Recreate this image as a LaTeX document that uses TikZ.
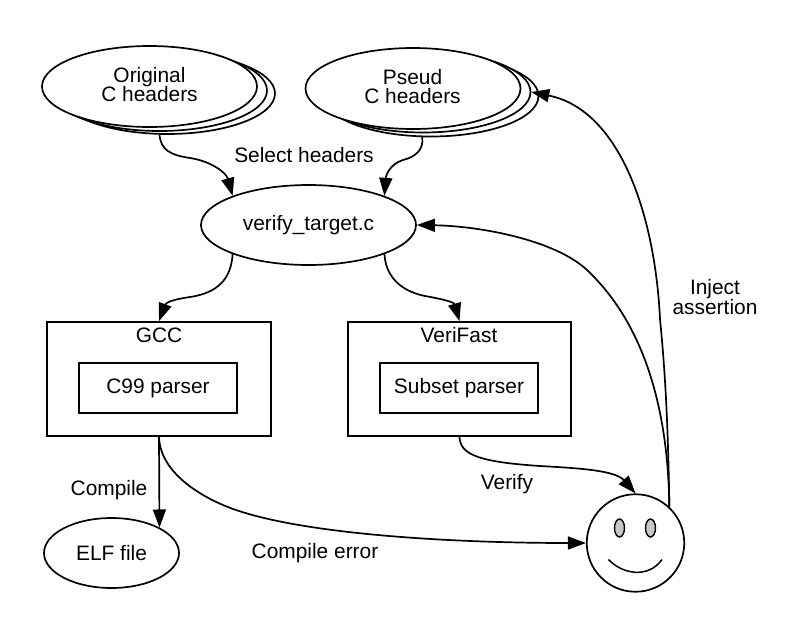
\documentclass[tikz,border=0pt]{standalone}
\usepackage{fontspec}
\setmainfont{Liberation Sans}
\usetikzlibrary{shapes.geometric,arrows.meta}
\tikzset{
  lbl/.style={inner sep=0pt,align=center,font=\fontsize{20.9}{19.5}\selectfont},
  ell/.style={draw,ellipse,fill=white,line width=1.7pt,inner sep=0pt,minimum width=#1*2pt,lbl},
  boxnode/.style={draw,rectangle,line width=1.7pt,inner sep=0pt,lbl},
  conn/.style={line width=1.7pt,-{Stealth[length=18pt,width=13pt,inset=0pt]}},
  eye/.style={draw,ellipse,line width=1.4pt,fill=black!22,minimum width=10pt,minimum height=18pt,inner sep=0pt},
}
\begin{document}
\begin{tikzpicture}[x=1pt,y=-1pt]
\useasboundingbox (0,0) rectangle (800,632);
% original headers
\node[ell=107.5,minimum height=81pt] (orig3) at (167.5,93.5) {};
\node[ell=107.5,minimum height=81pt] (orig2) at (159.5,90.5) {};
\node[ell=107.5,minimum height=81pt] (orig) at (149.5,86.5) {};
\node[lbl] (origtext) at (149.5,84.5) {Original\\C headers};
% pseud headers
\node[ell=107.5,minimum height=81pt] (pseud3) at (431,96) {};
\node[ell=107.5,minimum height=81pt] (pseud2) at (423,92) {};
\node[ell=107.5,minimum height=81pt] (pseud) at (413,88.5) {};
\node[lbl] (pseudtext) at (412.5,86.5) {Pseud\\C headers};
\node[ell=107.5,minimum height=80pt] (verify) at (308.5,225) {verify\_target.c};
% boxes
\node[boxnode,minimum width=224pt,minimum height=114pt] (gcc) at (159,379) {};
\node[lbl] (gcclabel) at (159,335) {GCC};
\node[boxnode,minimum width=158pt,minimum height=50pt] (c99) at (158,388) {C99 parser};
\node[boxnode,minimum width=223pt,minimum height=114pt] (vf) at (459.5,379) {};
\node[lbl] (vflabel) at (459,335) {VeriFast};
\node[boxnode,minimum width=158pt,minimum height=50pt] (subset) at (459,388) {Subset parser};
\node[ell=67.5,minimum height=70pt] (elf) at (111.5,553) {ELF file};
% smiley
\node[draw,circle,line width=1.7pt,fill=white,minimum size=97.5pt,inner sep=0pt] (smiley) at (635.5,543) {};
\node[eye] (eyeL) at (619.5,528) {};
\node[eye] (eyeR) at (650.5,528) {};
\draw[line width=1.5pt] (608.5,559.5) .. controls (622,574) and (648,579) .. (662,559.5);
% labels
\node[lbl] (l1) at (304,155) {Select headers};
\node[lbl] (l2) at (715,297) {Inject\\assertion};
\node[lbl] (l3) at (109,490) {Compile};
\node[lbl] (l4) at (507,484) {Verify};
\node[lbl] (l5) at (315,553) {Compile error};
% connectors
\draw[conn] (orig3.259) .. controls (161,150) and (170,155) .. (190,158) .. controls (210,161) and (226,172) .. (verify.159);
\draw[conn] (pseud3.258) .. controls (424,150) and (415,157) .. (403,160) .. controls (390,164) and (386,175) .. (verify.21.7);
\draw[conn] (verify.201.5) .. controls (231,285) and (210,294) .. (190,297) .. controls (176,299) and (166,302) .. (gcc.north);
\draw[conn] (verify.-21.5) .. controls (386,280) and (405,292) .. (425,296) .. controls (442,299) and (454,302) .. (vf.north);
\draw[conn] (vf.south) .. controls (460,455) and (480,462) .. (540,466) .. controls (575,468) and (615,470) .. (smiley.north);
\draw[conn] (gcc.south) -- (elf.28);
\draw[conn] (gcc.south) .. controls (160,470) and (195,493) .. (223,505) .. controls (290,534) and (450,543) .. (smiley.west);
\draw[conn] (smiley.47) .. controls (668,400) and (640,320) .. (587,270) .. controls (555,240) and (480,226) .. (verify.east);
\draw[conn] (smiley.47) .. controls (668,420) and (665,370) .. (660,319) .. controls (655,215) and (620,110) .. (pseud2.east);
\end{tikzpicture}
\end{document}
